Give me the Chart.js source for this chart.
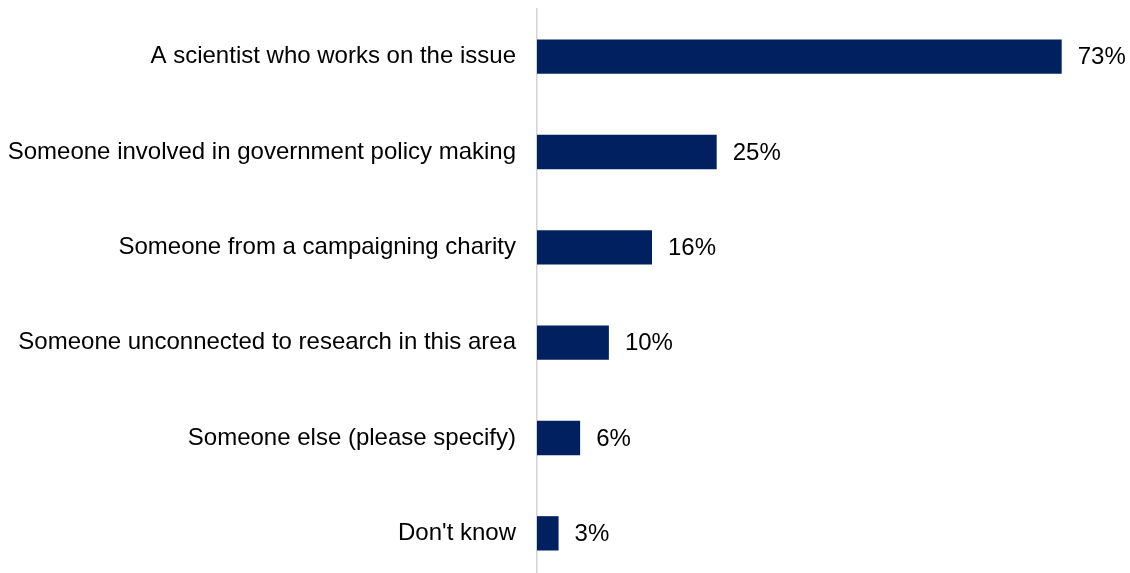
<!DOCTYPE html>
<html>
<head>
<meta charset="utf-8">
<script src="https://cdn.jsdelivr.net/npm/chart.js@4"></script>
<style>
  html, body { margin: 0; padding: 0; background: #fff; overflow: hidden; }
  #wrap { position: relative; width: 1130px; height: 581px; }
</style>
</head>
<body>
<div id="wrap"><canvas id="whoChart"></canvas></div>
<script>
const categories = [
    'A scientist who works on the issue',
    'Someone involved in government policy making',
    'Someone from a campaigning charity',
    'Someone unconnected to research in this area',
    'Someone else (please specify)',
    "Don't know"
];
const shares = [73, 25, 16, 10, 6, 3];

const barColor = '#002060';
const labelFont = { family: "'Liberation Sans', Arial, sans-serif", size: 24 };

// draws the "73%" style labels right of each bar
const valueLabels = {
    id: 'valueLabels',
    afterDatasetsDraw(chart) {
        const ctx = chart.ctx;
        const meta = chart.getDatasetMeta(0);
        ctx.save();
        ctx.font = labelFont.size + 'px ' + labelFont.family;
        ctx.fillStyle = '#000';
        ctx.textAlign = 'left';
        ctx.textBaseline = 'middle';
        meta.data.forEach((bar, i) => {
            ctx.fillText(shares[i] + '%', bar.x + 16, bar.y + 1);
        });
        ctx.restore();
    }
};

const ctx = document.getElementById('whoChart');
new Chart(ctx, {
    type: 'bar',
    data: {
        labels: categories,
        datasets: [{
            data: shares,
            backgroundColor: barColor,
            borderWidth: 0,
            barPercentage: 0.36,
            categoryPercentage: 1
        }]
    },
    options: {
        indexAxis: 'y',
        responsive: true,
        maintainAspectRatio: false,
        animation: false,
        layout: { padding: { top: 9, right: 18, bottom: 0, left: 0 } },
        scales: {
            x: {
                display: false,
                min: 0,
                max: 80
            },
            y: {
                afterFit(scale) {
                    scale.width = 537;
                    scale.paddingTop = 0;
                    scale.paddingBottom = 0;
                },
                grid: { display: false, drawTicks: false },
                border: { display: true, color: '#d4d4d4', width: 1.5 },
                ticks: {
                    color: '#000',
                    font: labelFont,
                    padding: 21
                }
            }
        },
        plugins: {
            legend: { display: false },
            tooltip: { enabled: false }
        }
    },
    plugins: [valueLabels]
});
</script>
</body>
</html>
